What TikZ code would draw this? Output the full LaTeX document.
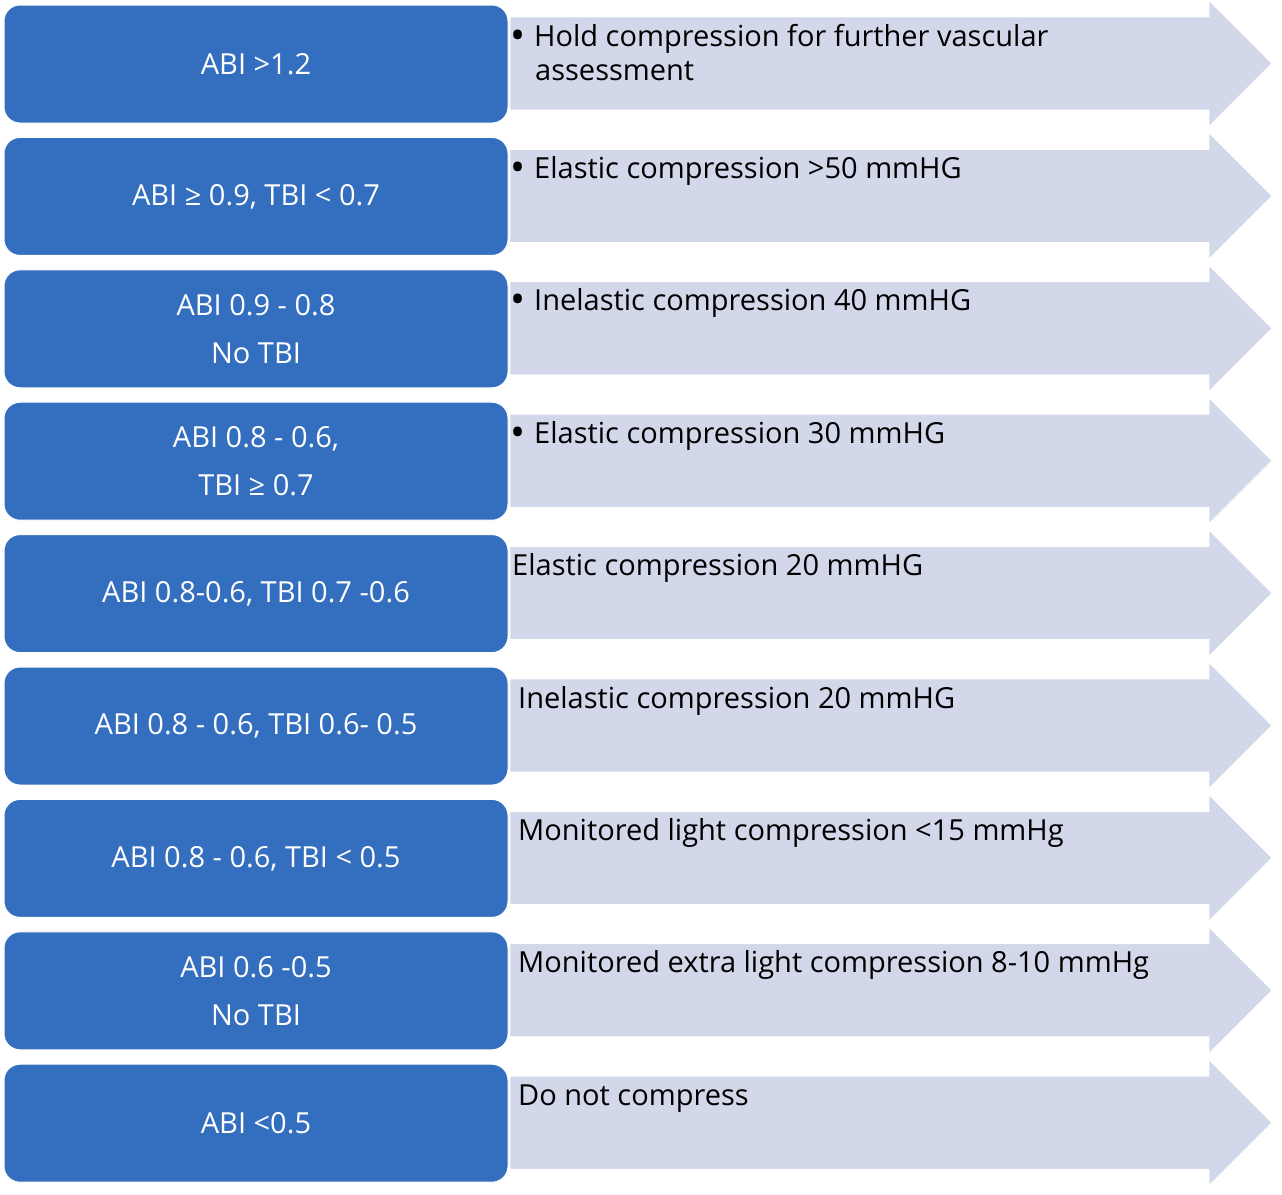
\documentclass[tikz,border=0pt]{standalone}
\usepackage{fontspec}
\setmainfont{Open Sans}
\definecolor{boxblue}{HTML}{346EBF}
\definecolor{arrowfill}{HTML}{D2D7EA}
\tikzset{
  abibox/.style={draw=white, line width=1pt, fill=boxblue, rounded corners=16pt,
    minimum width=504pt, minimum height=118pt, text=white, align=center,
    font=\fontsize{29}{48}\selectfont, inner sep=0pt},
  arrowshape/.style={fill=arrowfill, draw=white, line width=0.8pt},
  advice/.style={anchor=base west, align=left, font=\fontsize{29}{34}\selectfont,
    inner sep=0pt, text=black},
}
\newcommand\bul{\makebox[24pt][l]{\raisebox{-3pt}{\fontsize{40}{34}\selectfont•}}}
\newcommand\abirow[5]{%
  \pgfmathsetmacro\dy{132.4*#1}
  \draw[arrowshape] (510,{17+\dy}) -- (1209,{17+\dy}) -- (1209,{0.5+\dy})
     -- (1272,{63.5+\dy}) -- (1209,{126.5+\dy}) -- (1209,{110+\dy})
     -- (510,{110+\dy}) -- cycle;
  \node[abibox] (box#1) at (256,{64+\dy}) {#2};
  \node[advice] (adv#1) at (#3,{#4+\dy}) {#5};
}
\begin{document}
\begin{tikzpicture}[x=1pt,y=-1pt]
\useasboundingbox (0,0) rectangle (1282,1194);
\abirow{0}{ABI >1.2}{510}{80}{\bul Hold compression for further vascular\\\hspace*{25pt}assessment}
\abirow{1}{ABI ≥ 0.9, TBI < 0.7}{510}{46}{\bul Elastic compression >50 mmHG}
\abirow{2}{ABI 0.9 - 0.8\\No TBI}{510}{46}{\bul Inelastic compression 40 mmHG}
\abirow{3}{ABI 0.8 - 0.6,\\TBI ≥ 0.7}{510}{46}{\bul Elastic compression 30 mmHG}
\abirow{4}{ABI 0.8-0.6, TBI 0.7 -0.6}{512}{46}{Elastic compression 20 mmHG}
\abirow{5}{ABI 0.8 - 0.6, TBI 0.6- 0.5}{518}{46}{Inelastic compression 20 mmHG}
\abirow{6}{ABI 0.8 - 0.6, TBI < 0.5}{518}{46}{Monitored light compression <15 mmHg}
\abirow{7}{ABI 0.6 -0.5\\No TBI}{518}{46}{Monitored extra light compression 8-10 mmHg}
\abirow{8}{ABI <0.5}{518}{46}{Do not compress}
\end{tikzpicture}
\end{document}
